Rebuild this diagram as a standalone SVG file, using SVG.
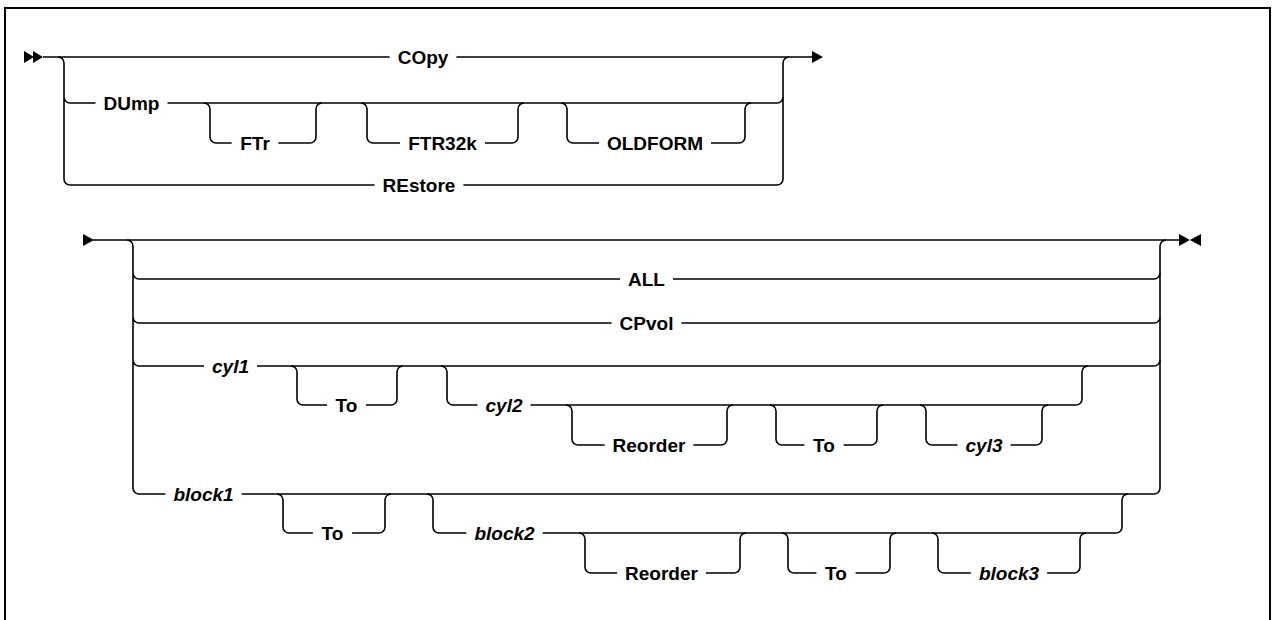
<svg xmlns="http://www.w3.org/2000/svg" width="1274" height="620" viewBox="0 0 1274 620">
<style>
.ln{fill:none;stroke:#000;stroke-width:1.6}
.fr{fill:none;stroke:#000;stroke-width:2}
.mk{fill:#000;stroke:none}
.kw{font-family:"Liberation Sans",Arial,sans-serif;font-size:19px;font-weight:bold;text-anchor:middle;fill:#000}
.var{font-style:italic}
</style>
<rect width="1274" height="620" fill="#fff"/>
<path class="fr" d="M5,622 V8 H1270 V622"/>
<g id="markers">
<path class="mk" d="M24,51 L34,57 L24,63 Z M33,51 L43,57 L33,63 Z"/>
<path class="mk" d="M812,51 L823,57 L812,63 Z"/>
<path class="mk" d="M83,234 L94,240 L83,246 Z"/>
<path class="mk" d="M1179,234 L1190,240 L1179,246 Z M1201,234 L1190,240 L1201,246 Z"/>
</g>
<g id="connectors">
<!-- top diagram -->
<path class="ln" d="M43,57 H389.6 M456.4,57 H812"/>
<path class="ln" d="M58,57 A6 6 0 0 1 64,63 V179 A6 6 0 0 0 70,185 M64,97 A6 6 0 0 0 70,103"/>
<path class="ln" d="M70,103 H95.5 M167.5,103 H777 A6 6 0 0 0 783,97"/>
<path class="ln" d="M70,185 H374.6 M463.4,185 H777 A6 6 0 0 0 783,179 V63 A6 6 0 0 1 789,57"/>
<path class="ln" d="M204,103 A6 6 0 0 1 210,109 V137 A6 6 0 0 0 216,143 H231.7 M278.3,143 H310 A6 6 0 0 0 316,137 V109 A6 6 0 0 1 322,103"/>
<path class="ln" d="M361,103 A6 6 0 0 1 367,109 V137 A6 6 0 0 0 373,143 H400 M485,143 H512 A6 6 0 0 0 518,137 V109 A6 6 0 0 1 524,103"/>
<path class="ln" d="M561,103 A6 6 0 0 1 567,109 V137 A6 6 0 0 0 573,143 H599 M711,143 H739 A6 6 0 0 0 745,137 V109 A6 6 0 0 1 751,103"/>
<!-- bottom diagram -->
<path class="ln" d="M93,240 H1180"/>
<path class="ln" d="M127,240 A6 6 0 0 1 133,246 V488 A6 6 0 0 0 139,494 M133,273 A6 6 0 0 0 139,279 M133,317 A6 6 0 0 0 139,323 M133,360 A6 6 0 0 0 139,366"/>
<path class="ln" d="M1160,488 V246 A6 6 0 0 1 1166,240"/>
<path class="ln" d="M139,279 H620 M673,279 H1154 A6 6 0 0 0 1160,273"/>
<path class="ln" d="M139,323 H611.6 M681.4,323 H1154 A6 6 0 0 0 1160,317"/>
<path class="ln" d="M139,366 H204 M257,366 H1154 A6 6 0 0 0 1160,360"/>
<path class="ln" d="M291,366 A6 6 0 0 1 297,372 V399 A6 6 0 0 0 303,405 H327 M366,405 H391 A6 6 0 0 0 397,399 V372 A6 6 0 0 1 403,366"/>
<path class="ln" d="M441,366 A6 6 0 0 1 447,372 V399 A6 6 0 0 0 453,405 H477.5 M530.5,405 H1076 A6 6 0 0 0 1082,399 V372 A6 6 0 0 1 1088,366"/>
<path class="ln" d="M566,405 A6 6 0 0 1 572,411 V439 A6 6 0 0 0 578,445 H604.6 M693.4,445 H721 A6 6 0 0 0 727,439 V411 A6 6 0 0 1 733,405"/>
<path class="ln" d="M770,405 A6 6 0 0 1 776,411 V439 A6 6 0 0 0 782,445 H804.4 M843.6,445 H871 A6 6 0 0 0 877,439 V411 A6 6 0 0 1 883,405"/>
<path class="ln" d="M920,405 A6 6 0 0 1 926,411 V439 A6 6 0 0 0 932,445 H957.5 M1010.5,445 H1036 A6 6 0 0 0 1042,439 V411 A6 6 0 0 1 1048,405"/>
<path class="ln" d="M139,494 H165.4 M241.6,494 H1154 A6 6 0 0 0 1160,488"/>
<path class="ln" d="M277,494 A6 6 0 0 1 283,500 V527 A6 6 0 0 0 289,533 H312.9 M352.1,533 H379 A6 6 0 0 0 385,527 V500 A6 6 0 0 1 391,494"/>
<path class="ln" d="M427,494 A6 6 0 0 1 433,500 V527 A6 6 0 0 0 439,533 H466.4 M542.6,533 H1116 A6 6 0 0 0 1122,527 V500 A6 6 0 0 1 1128,494"/>
<path class="ln" d="M579,533 A6 6 0 0 1 585,539 V567 A6 6 0 0 0 591,573 H617.1 M705.9,573 H734 A6 6 0 0 0 740,567 V539 A6 6 0 0 1 746,533"/>
<path class="ln" d="M782,533 A6 6 0 0 1 788,539 V567 A6 6 0 0 0 794,573 H816.4 M855.6,573 H884 A6 6 0 0 0 890,567 V539 A6 6 0 0 1 896,533"/>
<path class="ln" d="M932,533 A6 6 0 0 1 938,539 V567 A6 6 0 0 0 944,573 H970.9 M1047.1,573 H1074 A6 6 0 0 0 1080,567 V539 A6 6 0 0 1 1086,533"/>
</g>
<g id="n-copy"><text class="kw" x="423" y="63.5">COpy</text></g>
<g id="n-dump"><text class="kw" x="131.5" y="109.5">DUmp</text></g>
<g id="n-ftr"><text class="kw" x="255" y="149.5">FTr</text></g>
<g id="n-ftr32k"><text class="kw" x="442.5" y="149.5">FTR32k</text></g>
<g id="n-oldform"><text class="kw" x="655" y="149.5">OLDFORM</text></g>
<g id="n-restore"><text class="kw" x="419" y="191.5">REstore</text></g>
<g id="n-all"><text class="kw" x="646.5" y="285.5">ALL</text></g>
<g id="n-cpvol"><text class="kw" x="646.5" y="329.5">CPvol</text></g>
<g id="n-cyl1"><text class="kw var" x="230.5" y="372.5">cyl1</text></g>
<g id="n-to1"><text class="kw" x="346.5" y="411.5">To</text></g>
<g id="n-cyl2"><text class="kw var" x="504" y="411.5">cyl2</text></g>
<g id="n-reorder1"><text class="kw" x="649" y="451.5">Reorder</text></g>
<g id="n-to2"><text class="kw" x="824" y="451.5">To</text></g>
<g id="n-cyl3"><text class="kw var" x="984" y="451.5">cyl3</text></g>
<g id="n-block1"><text class="kw var" x="203.5" y="500.5">block1</text></g>
<g id="n-to3"><text class="kw" x="332.5" y="539.5">To</text></g>
<g id="n-block2"><text class="kw var" x="504.5" y="539.5">block2</text></g>
<g id="n-reorder2"><text class="kw" x="661.5" y="579.5">Reorder</text></g>
<g id="n-to4"><text class="kw" x="836" y="579.5">To</text></g>
<g id="n-block3"><text class="kw var" x="1009" y="579.5">block3</text></g>
</svg>
